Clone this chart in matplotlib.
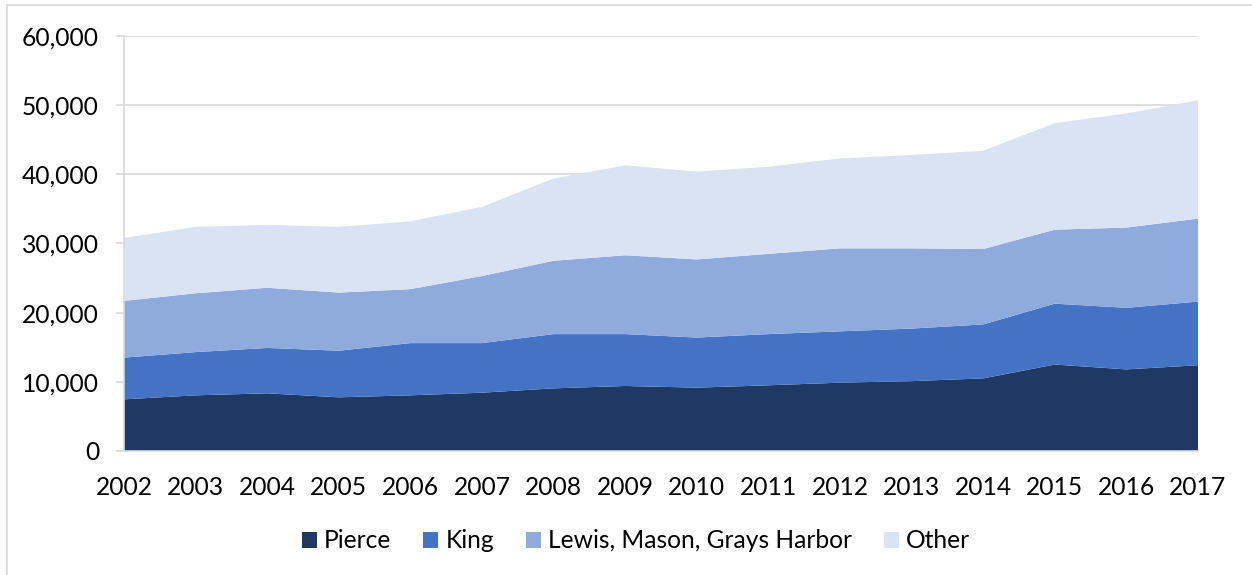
import matplotlib
matplotlib.use("Agg")
import matplotlib.pyplot as plt
from matplotlib.patches import Patch, Rectangle
from matplotlib.ticker import FuncFormatter, MultipleLocator

years = [2002, 2003, 2004, 2005, 2006, 2007, 2008, 2009, 2010,
         2011, 2012, 2013, 2014, 2015, 2016, 2017]
pierce = [7470, 8050, 8340, 7760, 8050, 8430, 9060, 9400, 9160,
          9500, 9880, 10100, 10500, 12500, 11800, 12400]
king = [6030, 6250, 6560, 6740, 7550, 7170, 7840, 7500, 7240,
        7400, 7420, 7600, 7800, 8800, 8900, 9200]
lewis = [8200, 8500, 8700, 8400, 7800, 9700, 10600, 11400, 11300,
         11600, 12000, 11600, 10900, 10700, 11600, 12000]
other = [9100, 9600, 9100, 9500, 9800, 10000, 11900, 13000, 12700,
         12600, 13000, 13500, 14200, 15400, 16500, 17100]
series_names = ["Pierce", "King", "Lewis, Mason, Grays Harbor", "Other"]
colors = ["#203864", "#4472C4", "#8FAADC", "#DAE3F3"]

plt.rcParams["font.family"] = ["Lato", "DejaVu Sans"]
FS = 17.7

W, H = 1252, 575
fig = plt.figure(figsize=(W / 100, H / 100), dpi=100)

# outer chart border
fig.patches.append(Rectangle((7 / W, -0.1), 1.2, 1 - 5 / H + 0.1,
                             transform=fig.transFigure, fill=False,
                             edgecolor="#D9D9D9", linewidth=1.2))

left, right, bottom, top = 124 / W, 1198 / W, 1 - 451 / H, 1 - 36 / H
ax = fig.add_axes([left, bottom, right - left, top - bottom])

ax.stackplot(years, pierce, king, lewis, other, colors=colors,
             linewidth=0, zorder=2)

ax.set_xlim(years[0], years[-1])
ax.set_ylim(0, 60000)
ax.yaxis.set_major_locator(MultipleLocator(10000))
ax.yaxis.set_major_formatter(FuncFormatter(lambda v, p: f"{int(v):,}"))
ax.set_xticks(years)
ax.set_xticklabels([str(y) for y in years])

ax.set_axisbelow(True)
ax.grid(axis="y", color="#D9D9D9", linewidth=1.2, zorder=0)
for s in ["top", "right"]:
    ax.spines[s].set_visible(False)
for s in ["left", "bottom"]:
    ax.spines[s].set_color("#D9D9D9")
    ax.spines[s].set_linewidth(1.2)
    ax.spines[s].set_zorder(3)

ax.tick_params(axis="y", length=6, width=1.2, color="#D9D9D9",
               labelsize=FS, pad=12, labelcolor="black")
ax.tick_params(axis="x", length=0, labelsize=FS, pad=18, labelcolor="black")

handles = [Patch(facecolor=c, edgecolor="none") for c in colors]
fig.legend(handles, series_names, loc="center", ncol=4,
           bbox_to_anchor=(636 / W, 1 - 541 / H), frameon=False,
           fontsize=FS, handlelength=0.6, handleheight=0.6,
           handletextpad=0.3, columnspacing=1.3)

fig.savefig("out.png", dpi=100)
